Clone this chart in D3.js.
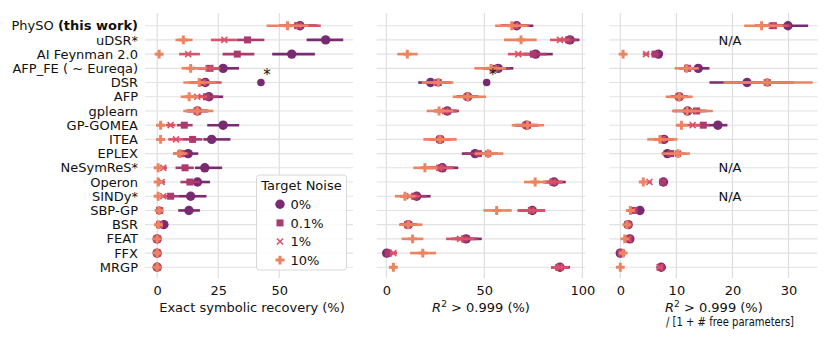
<!DOCTYPE html>
<html>
<head>
<meta charset="utf-8">
<script src="https://cdn.jsdelivr.net/npm/d3@7"></script>
<style>
  body { margin: 0; background: #fff; }
  text { font-family: "DejaVu Sans", sans-serif; fill: #111; }
</style>
</head>
<body>
<div id="chart"></div>
<script>
const methods = ['PhySO', 'uDSR*', 'AI Feynman 2.0', 'AFP_FE ( ~ Eureqa)', 'DSR', 'AFP', 'gplearn',
  'GP-GOMEA', 'ITEA', 'EPLEX', 'NeSymReS*', 'Operon', 'SINDy*', 'SBP-GP', 'BSR', 'FEAT', 'FFX', 'MRGP']
const noiseLevels = ['0%', '0.1%', '1%', '10%']
const noiseColors = ['#7a2a70', '#ab3a6e', '#dc5168', '#ec8361']

// [value, ci low, ci high] per method, one array per noise level
const recovery0 = [[58.5,52,65],[69,61.2,76.2],[55.1,47.1,64.6],[27,20.9,33.5],[19.7,15.5,24],[21.2,17.5,27],[16.5,12.5,20.5],
  [27,20.5,33.6],[22.3,18.9,30],[12.7,9,16.8],[19.5,15.5,26.6],[16.5,12,21.6],[13.7,8.6,20.2],[13,8.6,17.5],[2.7,1,4.5],[0,0,0],[0,0,0],[0,0,0]]
const recovery01 = [[57.5,50,66],[37,32.5,43.9],[32.8,26.8,39.8],[21.6,17,26],[19,14,24],[20.2,15.5,25],[16.4,12,21],
  [11.1,8,14.5],[14.5,10.5,18.5],[10,7,13],[11.4,7.5,15],[13.4,9.5,17.5],[5.5,3,8.5],[1,0,2],[1,0,2],[0,0,0],[0,0,0],[0,0,0]]
const recovery1 = [[58,50,67],[27.5,22,32.5],[12.7,9,17.5],[21,16.5,25.5],[18.5,13,26.4],[16.4,12.5,20.5],[16.4,12,21],
  [5.5,3.5,7.5],[7.7,4.5,10.7],[9.5,6.5,12.5],[2.5,1,4],[1.8,0.5,3.2],[2.5,1,4],[1,0,2],[0.8,0,1.8],[0,0,0],[0,0,0],[0,0,0]]
const recovery10 = [[53.4,44.8,62],[10.7,7.5,14.5],[0.8,-0.5,2.2],[13.7,10,20.2],[17.2,10.7,24],[13.1,9.6,17],[16.4,10.7,23],
  [1.4,0.4,3.2],[1.4,0.4,2.8],[9.3,6.6,12],[0.4,0,1],[0.4,0,1],[0.4,0,1],[0.8,0,1.6],[0.5,0,1.2],[0,0,0],[0,0,0],[0,0,0]]

const r2_0 = [[66.5,58,75],[93.7,89,98.5],[76.2,69.9,84.9],[57.1,51,64.8],[22.6,16.3,29],[41.5,36,47],[31.1,26,36],
  [71.6,66,77],[27.4,22,33],[45.3,38.5,52],[28.6,21.4,36.7],[85.6,81,91.5],[15.5,10,22.6],[74.5,68,80],[11.2,7.5,15],[40.7,35,48.7],[0.2,0,1],[88.6,84,93.7]]
const r2_01 = [[66,59,72],[93,88,97.5],[75,68,82],[56,50,63],[26.5,20,33],[41.5,36,47],[31,25,37],
  [72,66,78],[27.4,22,33],[47,40,54],[28,22,35],[85,80,90],[14.5,9,20.5],[74,67,81],[11,7,15],[40,33,47],[1,0,2.5],[88,84,93]]
const r2_1 = [[65.5,59,73],[88.6,83.5,93.5],[67.3,62,73],[55,49,61],[25.5,19,32],[41,35.5,46.5],[30,24,36],
  [71,65,77],[27.4,22,33],[52,47,57],[27,21,34],[85,80,90],[12,7,17],[74,67,81],[11,7,16],[37.6,30.5,45],[3.6,2,5.5],[88.5,84,93]]
const r2_10 = [[64,55.5,72],[68.7,60,76.7],[10.7,5.6,16],[53.4,44.9,61],[26.5,18,34.2],[41.5,33.9,50.9],[26.9,20.6,34],
  [72,64,80.5],[27.4,18.9,35.9],[52,45,59.7],[19.7,13.8,26],[75.9,70.2,81.8],[9.5,4.4,15],[56.3,49.5,64],[11.2,6.5,18.4],[13.4,7.8,18.9],[18.6,12.1,25.4],[3.6,2,5.2]]

// null = not available
const perParam0 = [[29.9,26.5,33.5],null,[6.8,6,7.6],[13.9,12,15.9],[22.6,15.9,30],[10.5,9,12],[12,9.5,14.5],
  [17.4,15.7,19.1],[7.8,6.3,9.5],[8.4,7.4,9.6],null,[7.7,7.2,8.2],null,[3.5,2.8,4.2],[1.4,1.1,1.7],[1.7,1.3,2.1],[0,0,0.1],[7.3,6.5,8.1]]
const perParam01 = [[27.3,24,30.5],null,[6.2,5.5,7],[12,10.5,13.5],[26.2,22,30.5],[10.5,9,12],[13.6,11.5,15.5],
  [14.8,13.5,16],[7.6,6,9],[9,8,10.2],null,[7.6,7,8.2],null,[2.5,2,3],[1.4,1.1,1.7],[1.6,1.2,2],[0.1,0,0.3],[7.2,6.5,8]]
const perParam1 = [[27,24,30],null,[4.6,4,5.2],[12,10.5,13.5],[26.2,21,31],[10.4,9,12],[13,11,15],
  [12.9,11.5,14.3],[7.4,6,9],[10.3,9,11.6],null,[5.2,4.8,5.6],null,[2.2,1.7,2.7],[1.3,1,1.6],[1.4,1,1.8],[0.3,0,0.6],[7,6.5,7.6]]
const perParam10 = [[25.2,22.1,29],null,[0.5,0.2,0.8],[11.8,9.7,14],[26.2,18.4,34.3],[10.5,8.1,12.9],[11.9,9.2,16.5],
  [10.9,9.9,12],[7.1,4.8,10.2],[10.3,7.4,12.4],null,[4.1,3.7,4.5],null,[1.8,1.5,2.2],[1.2,0.9,1.5],[0.8,0.4,1.2],[0.5,0.2,0.8],[0,-0.1,0.1]]

// DSR value as reported in its original paper (marked with *)
const dsrReported = [42.5, 51.2]

const width = 831, height = 346
const plotTop = 13, plotBottom = 278
const fontSize = 13

const svg = d3.select('#chart').append('svg')
  .attr('width', width).attr('height', height)
svg.append('rect').attr('width', width).attr('height', height).attr('fill', '#fff')

const y = d3.scalePoint().domain(methods).range([25.7, 267.3])

const panels = [
  {series: [recovery0, recovery01, recovery1, recovery10], domain: [-5, 80.2], range: [145, 353], ticks: [0, 25, 50], extra: dsrReported[0]},
  {series: [r2_0, r2_01, r2_1, r2_10], domain: [-4.9, 101.5], range: [376.7, 585.3], ticks: [0, 50, 100], extra: dsrReported[1]},
  {series: [perParam0, perParam01, perParam1, perParam10], domain: [-1.96, 35.2], range: [609.3, 817.7], ticks: [0, 10, 20, 30]}
]

function drawMarker(g, level, color) {
  if (level === 0) {
    g.append('circle').attr('r', 4.7).attr('fill', color)
  } else if (level === 1) {
    g.append('rect').attr('x', -3.5).attr('y', -3.5).attr('width', 7).attr('height', 7).attr('fill', color)
  } else if (level === 2) {
    g.append('path').attr('d', 'M-3,-3L3,3M-3,3L3,-3')
      .attr('stroke', color).attr('stroke-width', 1.6).attr('fill', 'none')
  } else {
    g.append('path').attr('d', d3.symbol().type(d3.symbolCross).size(44)()).attr('fill', color)
  }
}

panels.forEach((p, pi) => {
  const x = d3.scaleLinear().domain(p.domain).range(p.range)
  const g = svg.append('g')

  // grid
  g.selectAll('.vgrid').data(p.ticks).enter().append('line')
    .attr('x1', d => x(d)).attr('x2', d => x(d))
    .attr('y1', plotTop).attr('y2', plotBottom)
    .attr('stroke', '#dcdcdc').attr('stroke-width', 1.1)
  g.selectAll('.hgrid').data(methods).enter().append('line')
    .attr('x1', p.range[0]).attr('x2', p.range[1])
    .attr('y1', d => y(d)).attr('y2', d => y(d))
    .attr('stroke', '#e2e2e2').attr('stroke-width', 1.1)

  // x axis tick labels
  const axis = g.append('g').attr('transform', `translate(0,${plotBottom})`)
    .call(d3.axisBottom(x).tickValues(p.ticks).tickSize(0).tickPadding(8))
  axis.select('.domain').remove()
  axis.selectAll('text').attr('font-size', fontSize).attr('font-family', '"DejaVu Sans", sans-serif').attr('fill', '#111')

  // error bars and points, one noise level after another
  p.series.forEach((vals, li) => {
    const color = noiseColors[li]
    const rows = vals.map((v, i) => ({m: methods[i], v})).filter(d => d.v)
    g.selectAll(null).data(rows).enter().append('line')
      .attr('x1', d => x(d.v[1])).attr('x2', d => x(d.v[2]))
      .attr('y1', d => y(d.m)).attr('y2', d => y(d.m))
      .attr('stroke', color).attr('stroke-width', 2.6)
    g.selectAll(null).data(rows).enter().append('g')
      .attr('transform', d => `translate(${x(d.v[0])},${y(d.m)})`)
      .each(function() { drawMarker(d3.select(this), li, color) })
  })

  if (p.extra != null) {
    g.append('circle').attr('cx', x(p.extra)).attr('cy', y('DSR')).attr('r', 3.8).attr('fill', noiseColors[0])
    g.append('text').attr('x', x(p.extra) + 6).attr('y', y('DSR') - 3)
      .attr('text-anchor', 'middle').attr('font-size', 15).text('*')
  }
})

// N/A markers in third panel
svg.selectAll('.na').data(['uDSR*', 'NeSymReS*', 'SINDy*']).enter().append('text')
  .attr('x', 730).attr('y', d => y(d) + 4.6)
  .attr('text-anchor', 'middle').attr('font-size', fontSize).text('N/A')

// method labels
const labels = svg.selectAll('.lab').data(methods).enter().append('text')
  .attr('x', 138).attr('y', d => y(d) + 4.6)
  .attr('text-anchor', 'end').attr('font-size', fontSize)
labels.each(function(d) {
  const t = d3.select(this)
  if (d === 'PhySO') {
    t.append('tspan').text('PhySO ')
    t.append('tspan').attr('font-weight', 'bold').text('(this work)')
  } else {
    t.text(d)
  }
})

// axis titles
svg.append('text').attr('x', 252).attr('y', 311.5).attr('text-anchor', 'middle')
  .attr('font-size', fontSize).text('Exact symbolic recovery (%)')

function r2Label(t) {
  t.append('tspan').attr('font-style', 'italic').text('R')
  t.append('tspan').attr('font-size', 9).attr('dy', -5).text('2')
  t.append('tspan').attr('dy', 5).text(' > 0.999 (%)')
}
r2Label(svg.append('text').attr('x', 481).attr('y', 311.5).attr('text-anchor', 'middle').attr('font-size', fontSize))
r2Label(svg.append('text').attr('x', 665).attr('y', 311.5).attr('font-size', fontSize))
svg.append('text').attr('x', 666).attr('y', 326).attr('font-size', fontSize)
  .attr('textLength', 128).attr('lengthAdjust', 'spacingAndGlyphs')
  .text('/ [1 + # free parameters]')

// legend
const leg = svg.append('g')
leg.append('rect').attr('x', 256.5).attr('y', 175).attr('width', 90).attr('height', 95).attr('rx', 3)
  .attr('fill', '#fff').attr('fill-opacity', 0.85).attr('stroke', '#d8d8d8')
leg.append('text').attr('x', 301.5).attr('y', 189.5).attr('text-anchor', 'middle')
  .attr('font-size', fontSize).text('Target Noise')
noiseLevels.forEach((lvl, i) => {
  const ly = 204.3 + i * 18.6
  drawMarker(leg.append('g').attr('transform', `translate(280,${ly})`), i, noiseColors[i])
  leg.append('text').attr('x', 290.5).attr('y', ly + 4.6).attr('font-size', fontSize).text(lvl)
})
</script>
</body>
</html>
